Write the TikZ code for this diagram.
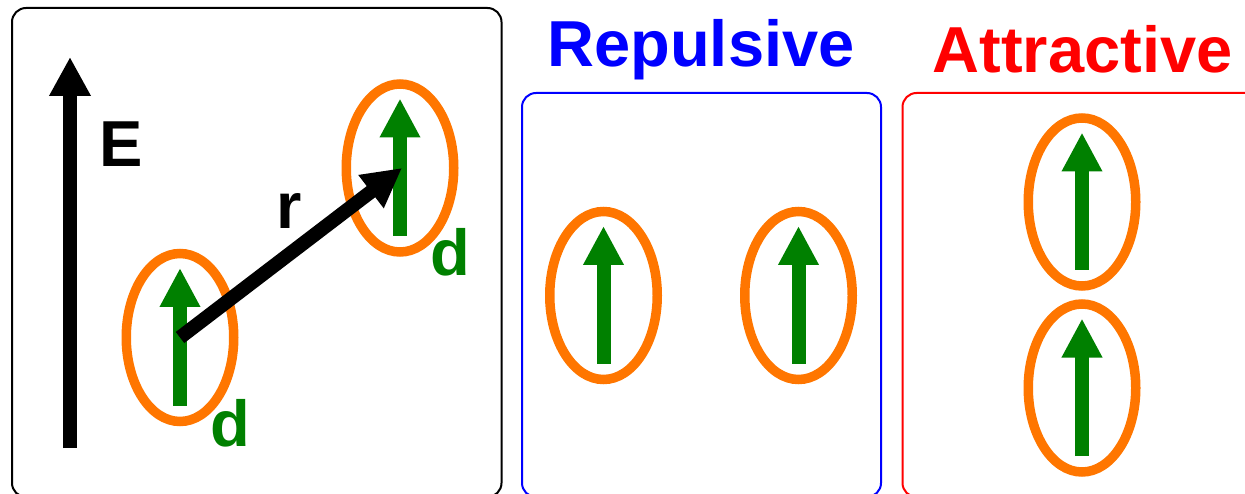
\documentclass[tikz,border=0pt]{standalone}
\usepackage{fontspec}
\setmainfont{Liberation Sans}
\usetikzlibrary{arrows.meta,shapes.geometric,calc}
\definecolor{dipgreen}{RGB}{0,128,0}
\definecolor{ringorange}{RGB}{255,118,0}

% one dipole: an orange ring with a green arrow pointing up inside it
\newcommand\dipolering[3]{%
  \node[ring] (#1) at (#2,#3) {};
  \draw[dipole] ([yshift=-68pt]#1.center) -- ([yshift=69.5pt]#1.center);
}

\begin{document}
\begin{tikzpicture}[x=1pt,y=-1pt,
  panel/.style={line width=2pt, rounded corners=14pt},
  ring/.style={ellipse, draw=ringorange, line width=9.5pt,
    minimum width=107.5pt, minimum height=168pt, inner sep=0pt},
  dipole/.style={draw=dipgreen, line width=14pt,
    -{Triangle[width=38pt,length=39pt]}},
  bigarrow/.style={draw=black, line width=14pt,
    -{Triangle[width=39pt,length=39pt]}},
  lab/.style={font=\fontsize{65}{70}\selectfont\bfseries, inner sep=0pt, anchor=base},
]
\useasboundingbox (0,0) rectangle (1245,494);
\clip (0,0) rectangle (1245,494);

% panel frames
\draw[panel] (12,8) rectangle (501.5,497);
\draw[panel, blue] (522,93) rectangle (881,497);
\draw[panel, red] (902.5,93) rectangle (1280,497);

% panel titles
\node[lab, text=blue] (rep) at (701,67) {Repulsive};
\node[lab, text=red] (att) at (1082.5,73) {Attractive};

% field arrow
\coordinate (Ebot) at (70,448);
\coordinate (Etop) at (70,57);
\draw[bigarrow] (Ebot) -- (Etop);
\node[lab] (Elab) at (121.5,167) {E};

% two dipoles separated by r
\dipolering{dA}{180}{337.5}
\dipolering{dB}{400}{168}
\draw[bigarrow] (dA.center) -- ([xshift=2pt]dB.center);
\node[lab] (rlab) at (289,229) {r};
\node[lab, text=dipgreen] (dlabA) at (230,446) {d};
\node[lab, text=dipgreen] (dlabB) at (450.5,276) {d};

% side by side
\dipolering{rL}{603.5}{295.5}
\dipolering{rR}{798.5}{295.5}

% head to tail
\dipolering{aT}{1082}{202}
\dipolering{aB}{1082}{388}
\end{tikzpicture}
\end{document}
